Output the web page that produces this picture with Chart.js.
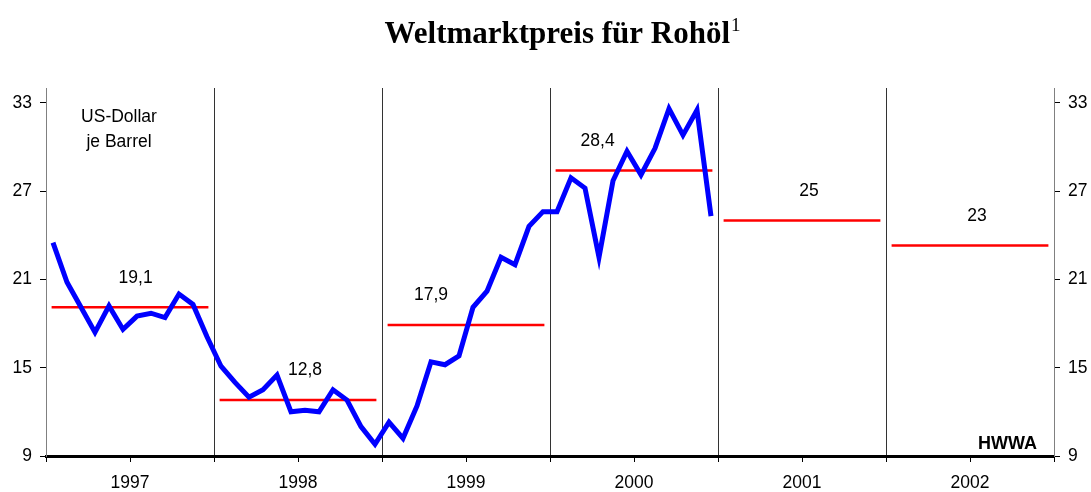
<!DOCTYPE html>
<html>
<head>
<meta charset="utf-8">
<script src="https://cdn.jsdelivr.net/npm/chart.js@4.4.1/dist/chart.umd.min.js"></script>
<style>
    body { margin: 0; background: #fff; }
    #oilChart { display: block; }
</style>
</head>
<body>
<canvas id="oilChart" width="1091" height="492"></canvas>
<script>
// Data (US-Dollar je Barrel)
var years = ['1997', '1998', '1999', '2000', '2001', '2002'];

// monthly values, Jan 1997 - Dec 2000
var monthlyPrice = [
    23.5, 20.8, 19.1, 17.4, 19.2, 17.6, 18.5, 18.7, 18.4, 20.0, 19.3, 17.1,
    15.1, 14.0, 13.0, 13.5, 14.5, 12.0, 12.1, 12.0, 13.5, 12.8, 11.0, 9.8,
    11.3, 10.2, 12.4, 15.4, 15.2, 15.8, 19.1, 20.2, 22.5, 22.0, 24.6, 25.6,
    25.6, 27.9, 27.2, 22.5, 27.7, 29.7, 28.1, 29.9, 32.6, 30.8, 32.5, 25.3
];

// yearly averages (2001, 2002 forecast)
var yearAverage = [19.1, 12.8, 17.9, 28.4, 25, 23.3];
var averageLabels = ['19,1', '12,8', '17,9', '28,4', '25', '23'];
var yTicks = [9, 15, 21, 27, 33];

// where the average labels sit inside each year (months from year start)
var labelOffsetX = [6.4, 6.5, 3.5, 3.4, 6.5, 6.5];

Chart.defaults.font.family = '"Liberation Sans", Arial, sans-serif';
Chart.defaults.font.size = 17.5;
Chart.defaults.color = '#000';

var datasets = [{
    data: monthlyPrice.map(function (v, i) { return { x: i + 0.5, y: v }; }),
    borderColor: '#0000ff',
    borderWidth: 5,
    pointRadius: 0,
    tension: 0,
    order: 0
}];
yearAverage.forEach(function (v, i) {
    datasets.push({
        data: [{ x: i * 12 + 0.4, y: v }, { x: i * 12 + 11.6, y: v }],
        borderColor: '#ff0000',
        borderWidth: 2.5,
        pointRadius: 0,
        order: 1
    });
});

var overlay = {
    id: 'overlay',
    afterDraw: function (chart) {
        var c = chart.ctx;
        var xs = chart.scales.x, ys = chart.scales.y;
        c.save();
        // title with superscript
        c.fillStyle = '#000';
        c.textBaseline = 'alphabetic';
        var bold = 'bold 31px "Liberation Serif", "Times New Roman", serif';
        var sup = '19px "Liberation Serif", "Times New Roman", serif';
        var t = 'Weltmarktpreis für Rohöl';
        c.font = bold;
        var w = c.measureText(t).width;
        c.font = sup;
        var w1 = c.measureText('1').width;
        var x0 = 562 - (w + w1) / 2;
        c.font = bold;
        c.textAlign = 'left';
        c.fillText(t, x0, 43);
        c.font = sup;
        c.fillText('1', x0 + w + 1, 31);

        // unit note
        c.font = '17.5px "Liberation Sans", Arial, sans-serif';
        c.textAlign = 'center';
        c.textBaseline = 'middle';
        c.fillText('US-Dollar', 119, 117);
        c.fillText('je Barrel', 119, 142);

        // average labels
        yearAverage.forEach(function (v, i) {
            c.fillText(averageLabels[i], xs.getPixelForValue(i * 12 + labelOffsetX[i]), ys.getPixelForValue(v + 2));
        });

        // source
        c.font = 'bold 18px "Liberation Sans", Arial, sans-serif';
        c.textAlign = 'right';
        c.fillText('HWWA', 1037, 444);
        c.restore();
    }
};

function fixTicks(scale) {
    scale.ticks = yTicks.map(function (v) { return { value: v }; });
}

var yAxis = {
    min: 9,
    max: 34,
    afterBuildTicks: fixTicks,
    grid: { drawOnChartArea: false, tickLength: 6, color: '#000' },
    border: { color: '#808080', width: 1 },
    ticks: { padding: 8 }
};

var chart = new Chart(document.getElementById('oilChart').getContext('2d'), {
    type: 'line',
    data: { datasets: datasets },
    options: {
        responsive: false,
        animation: false,
        layout: { padding: { top: 88, left: 0, right: 0, bottom: 0 } },
        plugins: {
            legend: { display: false },
            tooltip: { enabled: false },
            title: { display: false }
        },
        scales: {
            x: {
                type: 'linear',
                min: 0,
                max: 72,
                afterFit: function (scale) { scale.height = 36; },
                ticks: {
                    stepSize: 6,
                    autoSkip: false,
                    maxRotation: 0,
                    padding: 11,
                    callback: function (value) {
                        return value % 12 === 6 ? years[(value - 6) / 12] : '';
                    }
                },
                grid: {
                    tickLength: 6,
                    tickColor: '#000',
                    color: function (ctx) {
                        var v = ctx.tick && ctx.tick.value;
                        return (v % 12 === 0 && v > 0 && v < 72) ? '#333' : 'rgba(0,0,0,0)';
                    }
                },
                border: { color: '#000', width: 3 }
            },
            y: Object.assign({}, yAxis, {
                position: 'left',
                afterFit: function (scale) { scale.width = 46; }
            }),
            y2: Object.assign({}, yAxis, {
                position: 'right',
                afterFit: function (scale) { scale.width = 37; }
            })
        }
    },
    plugins: [overlay]
});
</script>
</body>
</html>
